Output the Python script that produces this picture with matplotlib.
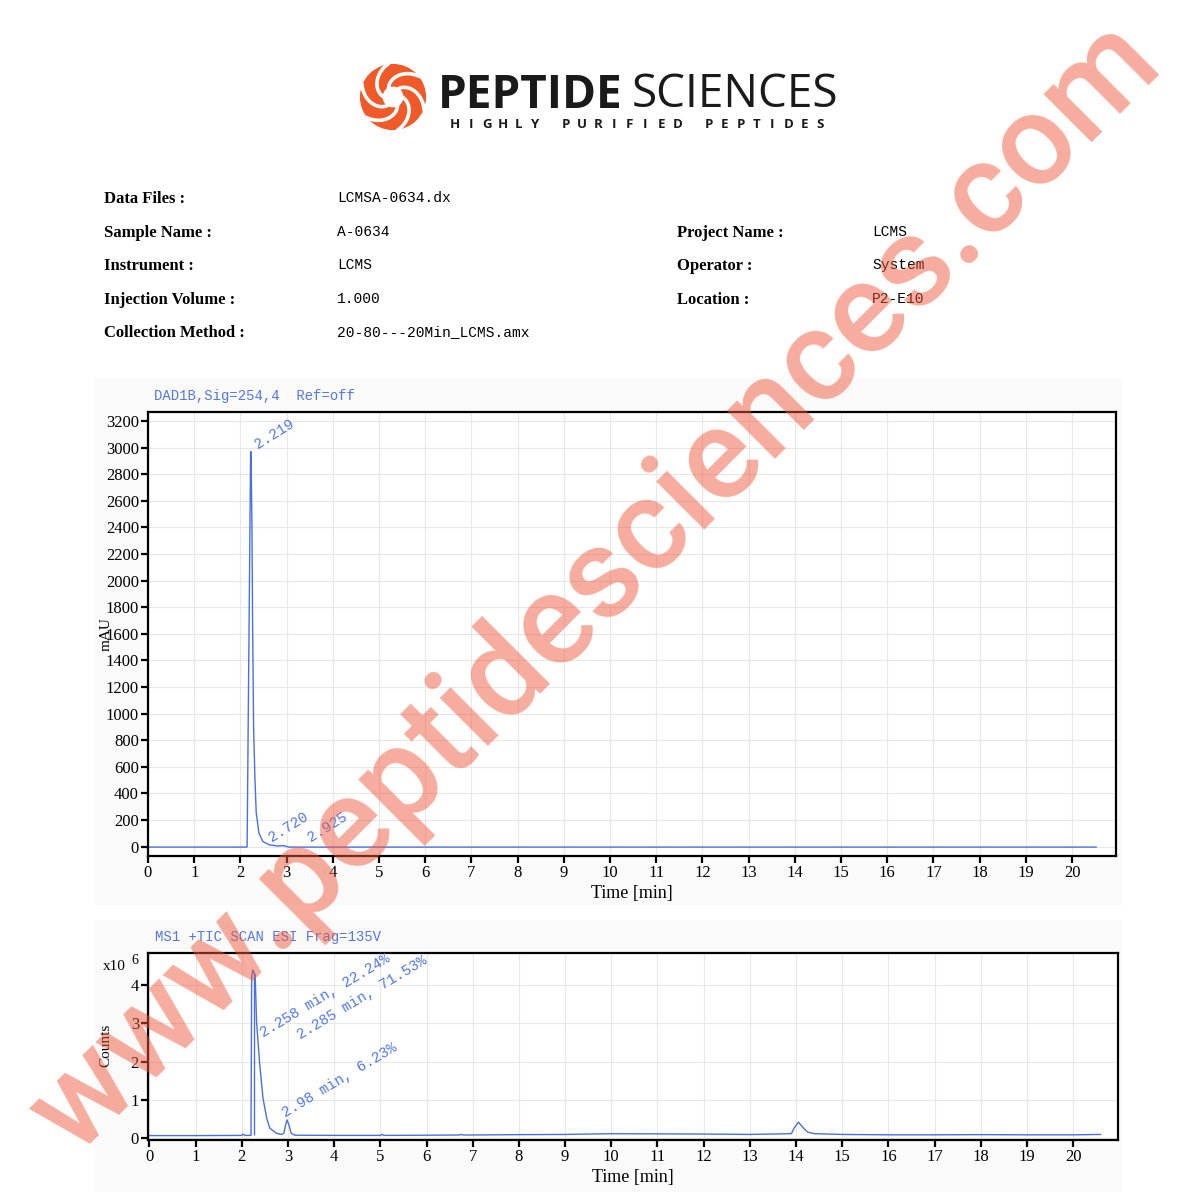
import numpy as np
import matplotlib
matplotlib.use("Agg")
import matplotlib.pyplot as plt
from matplotlib.patches import Circle, Rectangle

# ---------------- data ----------------
header_left_labels = ["Data Files :", "Sample Name :", "Instrument :", "Injection Volume :", "Collection Method :"]
header_left_values = ["LCMSA-0634.dx", "A-0634", "LCMS", "1.000", "20-80---20Min_LCMS.amx"]
header_right_labels = ["Project Name :", "Operator :", "Location :"]
header_right_values = ["LCMS", "System", "P2-E10"]

# DAD trace (time in min, mAU)
dad_t = [0.0, 1.0, 2.0, 2.14, 2.145, 2.221, 2.228, 2.249, 2.264, 2.285, 2.314, 2.342,
         2.40, 2.485, 2.63, 2.72, 2.80, 2.925, 3.05, 5.0, 10.0, 15.0, 20.52]
dad_v = [-3, -3, -3, -3, 0, 2970, 2970, 2442, 1671, 900, 514, 257,
         103, 39, 13, 10, 5, 8, -3, -3, -3, -3, -3]
dad_peak_labels = ["2.219", "2.720", "2.925"]

# TIC trace (time in min, counts x1e6)
tic_t = [0.0, 1.0, 2.0, 2.03, 2.07, 2.20, 2.214, 2.24, 2.27, 2.29, 2.32, 2.39, 2.46,
         2.54, 2.61, 2.75, 2.86, 2.91, 2.95, 2.98, 3.02, 3.07, 3.15, 4.0, 5.0, 5.04, 5.08,
         6.0, 6.7, 6.75, 6.8, 7.5, 8.0, 9.0, 10.0, 11.0, 12.0, 13.0, 13.9, 13.95, 14.05,
         14.15, 14.25, 14.4, 15.0, 16.0, 17.0, 18.0, 19.0, 20.0, 20.59]
tic_v = [0.07, 0.07, 0.075, 0.11, 0.075, 0.075, 4.2, 4.39, 4.3, 4.26, 3.04, 1.91, 1.04,
         0.52, 0.26, 0.13, 0.10, 0.13, 0.35, 0.48, 0.35, 0.13, 0.08, 0.075, 0.075, 0.10, 0.075,
         0.08, 0.085, 0.10, 0.085, 0.09, 0.095, 0.10, 0.12, 0.115, 0.11, 0.10, 0.12, 0.25, 0.42,
         0.28, 0.16, 0.12, 0.10, 0.09, 0.09, 0.095, 0.09, 0.09, 0.10]
tic_split_t = [2.268]          # integration drop line between 2.258 and 2.285
tic_split_v = [4.3]
tic_peak_labels = ["2.258 min, 22.24%", "2.285 min, 71.53%", "2.98 min, 6.23%"]

dad_yticks = list(range(0, 3201, 200))
tic_yticks = [0, 1, 2, 3, 4]
xticks = list(range(0, 21))

# ---------------- layout / style ----------------
W, H = 1196, 1200
BLUE_LINE = "#4a6fe3"
BLUE_TXT = "#5277e6"
SERIF = "Liberation Serif"
MONO = "Liberation Mono"

def fx(px):
    return px / W

def fy(py):
    return 1 - py / H

fig = plt.figure(figsize=(W / 100, H / 100), dpi=100)
fig.patch.set_facecolor("white")

# faint panel backgrounds behind charts
for (x0, y0, x1, y1) in [(95, 378, 1122, 905), (95, 920, 1122, 1192)]:
    fig.patches.append(Rectangle((fx(x0), fy(y1)), fx(x1) - fx(x0), fy(y0) - fy(y1),
                                 transform=fig.transFigure, facecolor="#fafafa",
                                 edgecolor="none", zorder=-5))

# ---------------- logo ----------------
lax = fig.add_axes([fx(393 - 34), fy(97 + 34), fx(68), 68 / H])
lax.set_xlim(-1.05, 1.05)
lax.set_ylim(-1.05, 1.05)
lax.set_aspect("equal")
lax.axis("off")
lax.add_patch(Circle((0, 0), 1.0, color="#f05a28", zorder=1))
for k in range(6):
    th0 = k * 2 * np.pi / 6
    r = np.linspace(0.28, 1.05, 40)
    th = th0 - (r - 0.28) * 1.9
    lax.plot(r * np.cos(th), r * np.sin(th), color="white", lw=2.6, zorder=2,
             solid_capstyle="butt")
lax.add_patch(Circle((0, 0), 0.3, color="white", zorder=3))

fig.text(fx(438), fy(95), "PEPTIDE", fontsize=33, fontweight="bold", family="Open Sans",
         color="#1a1a1a", ha="left", va="center")
fig.text(fx(632), fy(95), "SCIENCES", fontsize=33, family="Open Sans",
         color="#1a1a1a", ha="left", va="center")
tag = "HIGHLY PURIFIED PEPTIDES"
step = (820 - 455) / (len(tag) - 1)
for i, ch in enumerate(tag):
    if ch != " ":
        fig.text(fx(455 + i * step), fy(125), ch, fontsize=9.5, fontweight="bold",
                 family="Open Sans", color="#1a1a1a", ha="center", va="center")

# ---------------- header ----------------
rows_y = [199, 233, 266, 300, 333]
for lab, val, yy in zip(header_left_labels, header_left_values, rows_y):
    fig.text(fx(104), fy(yy), lab, fontsize=12, fontweight="bold", family=SERIF,
             ha="left", va="center")
    fig.text(fx(337), fy(yy - 1), val, fontsize=10.5, family=MONO, ha="left", va="center")
for lab, val, yy in zip(header_right_labels, header_right_values, rows_y[1:4]):
    fig.text(fx(677), fy(yy), lab, fontsize=12, fontweight="bold", family=SERIF,
             ha="left", va="center")
    fig.text(fx(872), fy(yy - 1), val, fontsize=10.5, family=MONO, ha="left", va="center")

# ---------------- helper for axes styling ----------------
def style_axes(ax, yticks):
    ax.set_facecolor("white")
    for s in ax.spines.values():
        s.set_linewidth(1.6)
        s.set_color("black")
    ax.set_xticks(xticks)
    ax.set_yticks(yticks)
    ax.grid(True, color="#e8e8e8", lw=0.8)
    ax.set_axisbelow(True)
    ax.tick_params(direction="out", length=5, width=1.6, pad=1.5, labelsize=12)
    for lab in ax.get_xticklabels() + ax.get_yticklabels():
        lab.set_family(SERIF)
    ax.set_xlabel("Time [min]", fontsize=13, family=SERIF, labelpad=3)

# ---------------- DAD chart ----------------
ax1 = fig.add_axes([fx(148), fy(856), fx(1116) - fx(148), fy(412) - fy(856)])
ax1.plot(dad_t, dad_v, color=BLUE_LINE, lw=1.0)
ax1.set_xlim(0, 20.95)
ax1.set_ylim(-70, 3268)
style_axes(ax1, dad_yticks)
dad_label_pos = [(2.42, 2968), (2.71, 13), (3.57, 13)]
for txt, (lx, ly) in zip(dad_peak_labels, dad_label_pos):
    ax1.text(lx, ly, txt, rotation=32, rotation_mode="anchor", ha="left", va="bottom",
             fontsize=10.5, family=MONO, color=BLUE_TXT)
fig.text(fx(154), fy(396), "DAD1B,Sig=254,4  Ref=off", fontsize=10, family=MONO,
         color=BLUE_TXT, ha="left", va="center")
fig.text(fx(106), fy(634), "mAU", rotation=90, fontsize=11, family=SERIF,
         ha="center", va="center")

# ---------------- TIC chart ----------------
ax2 = fig.add_axes([fx(148), fy(1140), fx(1118) - fx(148), fy(953) - fy(1140)])
ax2.plot(tic_t, tic_v, color=BLUE_LINE, lw=1.0)
ax2.vlines(tic_split_t, 0.075, tic_split_v, color=BLUE_LINE, lw=1.0)
ax2.set_xlim(-0.03, 20.97)
ax2.set_ylim(-0.045, 4.83)
style_axes(ax2, tic_yticks)
tic_label_pos = [(2.507, 2.56), (3.30, 2.52), (2.98, 0.48)]
for txt, (lx, ly) in zip(tic_peak_labels, tic_label_pos):
    ax2.text(lx, ly, txt, rotation=31, rotation_mode="anchor", ha="left", va="bottom",
             fontsize=10.5, family=MONO, color=BLUE_TXT)
fig.text(fx(155), fy(937), "MS1 +TIC SCAN ESI Frag=135V", fontsize=10, family=MONO,
         color=BLUE_TXT, ha="left", va="center")
fig.text(fx(106), fy(1045), "Counts", rotation=90, fontsize=11, family=SERIF,
         ha="center", va="center")
fig.text(fx(103), fy(966), "x10", fontsize=11, family=SERIF, ha="left", va="center")
fig.text(fx(131), fy(960), "6", fontsize=10, family=SERIF, ha="left", va="center")

# ---------------- watermark ----------------
fig.text(fx(620), fy(612), "www.peptidesciences.com", fontsize=92, fontweight="medium",
         family="Roboto",
         color="#ee5a3c", alpha=0.5, rotation=45, rotation_mode="anchor",
         ha="center", va="baseline", zorder=10)

fig.savefig("out.png", dpi=100, facecolor="white")
